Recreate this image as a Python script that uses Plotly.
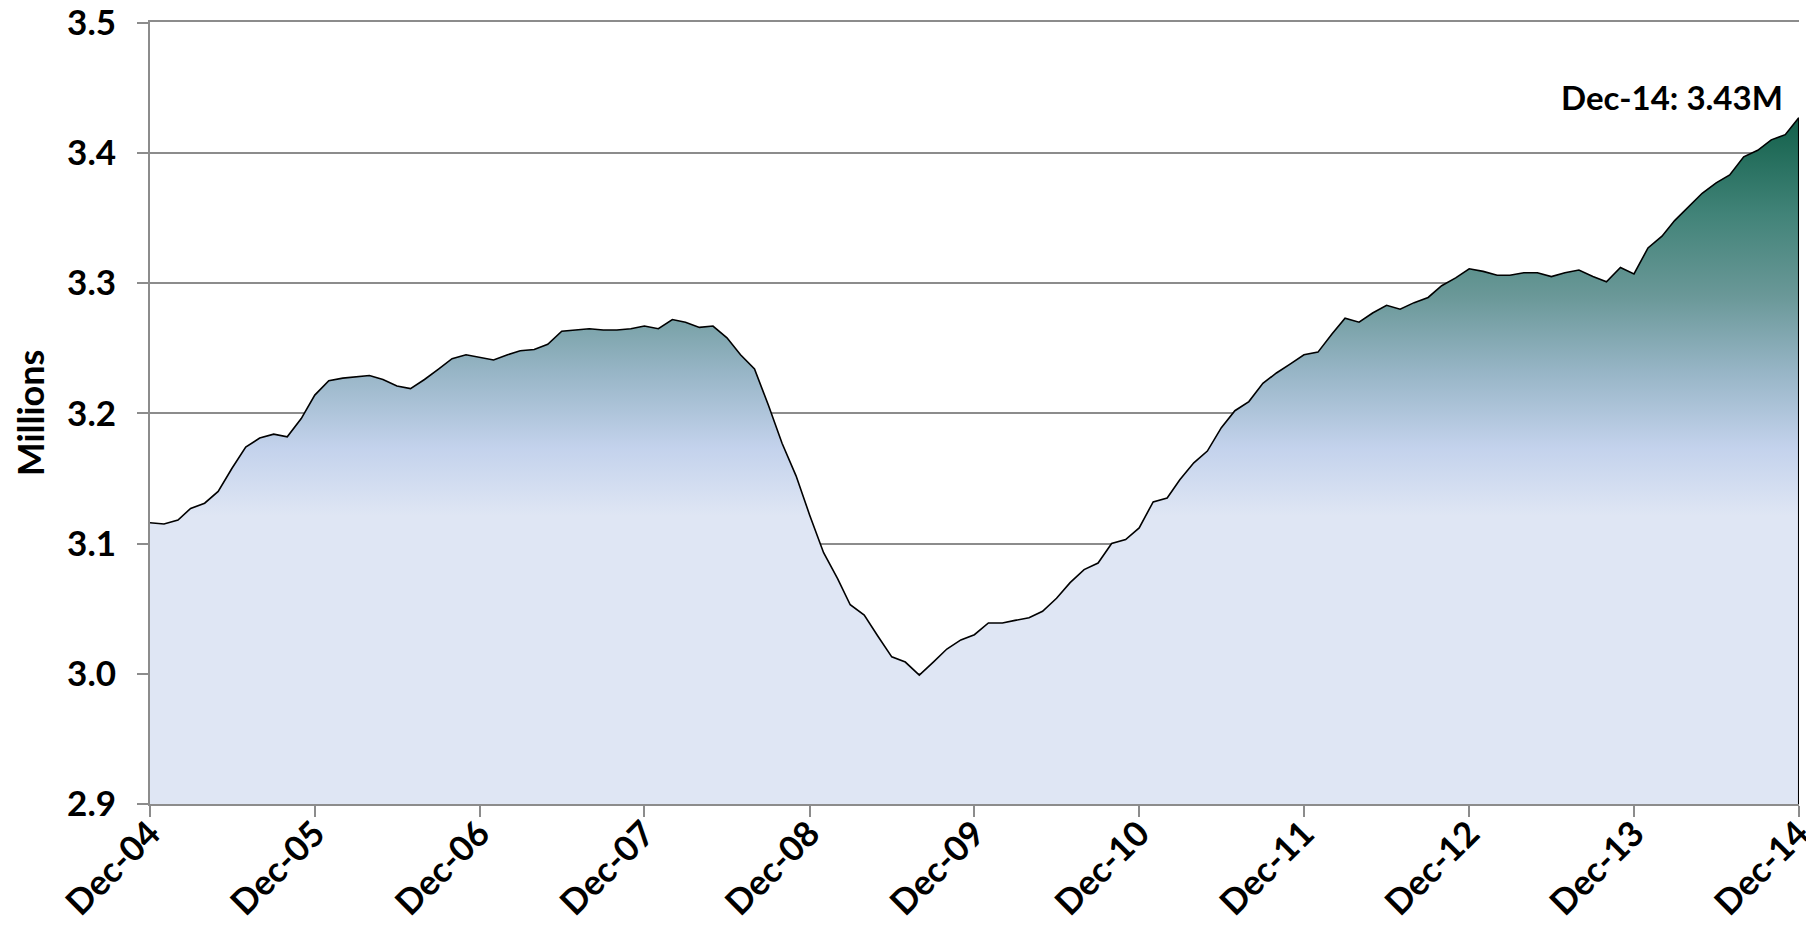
import plotly.graph_objects as go
import pandas as pd

start_month = "2004-12-01"
n_months = 121
values = [
    3.116,
    3.115, 3.118, 3.127, 3.131, 3.140, 3.158, 3.174, 3.181, 3.184, 3.182, 3.196, 3.214,
    3.225, 3.227, 3.228, 3.229, 3.226, 3.221, 3.219, 3.226, 3.234, 3.242, 3.245, 3.243,
    3.241, 3.245, 3.248, 3.249, 3.253, 3.263, 3.264, 3.265, 3.264, 3.264, 3.265, 3.267,
    3.265, 3.272, 3.270, 3.266, 3.267, 3.258, 3.245, 3.234, 3.206, 3.177, 3.152, 3.122,
    3.093, 3.073, 3.053, 3.045, 3.029, 3.013, 3.009, 2.999, 3.009, 3.019, 3.026, 3.030,
    3.039, 3.039, 3.041, 3.043, 3.048, 3.058, 3.070, 3.080, 3.085, 3.100, 3.103, 3.112,
    3.132, 3.135, 3.149, 3.162, 3.171, 3.189, 3.202, 3.209, 3.223, 3.231, 3.238, 3.245,
    3.247, 3.261, 3.273, 3.270, 3.277, 3.283, 3.280, 3.285, 3.289, 3.298, 3.304, 3.311,
    3.309, 3.306, 3.306, 3.308, 3.308, 3.305, 3.308, 3.310, 3.305, 3.301, 3.312, 3.307,
    3.327, 3.336, 3.348, 3.359, 3.369, 3.377, 3.383, 3.397, 3.402, 3.410, 3.414, 3.427,
]
dates = pd.date_range(start_month, periods=n_months, freq="MS")
y_min, y_max = 2.9, 3.5
y_ticks = [2.9, 3.0, 3.1, 3.2, 3.3, 3.4, 3.5]
label_text = "Dec-14: 3.43M"
y_title = "Millions"

FONT = "Lato"
grid = "#8C8C8C"

fig = go.Figure()
fig.add_trace(go.Scatter(
    x=dates, y=values, mode="lines",
    line=dict(color="black", width=1.6),
    fill="tozeroy",
    fillgradient=dict(
        type="vertical",
        start=y_min, stop=max(values),
        colorscale=[
            [0.0, "#DFE6F4"],
            [0.42, "#DFE6F4"],
            [0.52, "#C3D2EC"],
            [0.63, "#97B5C6"],
            [0.74, "#6A9898"],
            [0.86, "#418378"],
            [1.0, "#12604A"],
        ],
    ),
    hoverinfo="x+y",
    showlegend=False,
))
# right edge outline of the area
fig.add_trace(go.Scatter(
    x=[dates[-1], dates[-1]], y=[y_min, values[-1]], mode="lines",
    line=dict(color="black", width=1.6), showlegend=False, hoverinfo="skip",
))

fig.add_annotation(
    x=dates[-1], y=values[-1], xref="x", yref="y",
    text=label_text, showarrow=False,
    xanchor="right", yanchor="bottom", xshift=-14, yshift=-1,
    font=dict(family=FONT, size=33, color="black", weight="bold"),
)

x_end = dates[-1] + pd.Timedelta(hours=12)

# the page body adds an 8px offset; figure is sized so the plot area lands where the reference has it
fig.update_layout(
    width=1806, height=920,
    margin=dict(l=142, r=15, t=14, b=124),
    paper_bgcolor="white", plot_bgcolor="white",
    font=dict(family=FONT, color="black"),
)
fig.update_xaxes(
    type="date",
    range=[dates[0], x_end],
    tick0=dates[0], dtick="M12", tickformat="%b-%y",
    tickangle=-45,
    ticks="outside", ticklen=11, tickwidth=2, tickcolor=grid,
    showline=True, linecolor=grid, linewidth=2, mirror=True,
    showgrid=False, zeroline=False, automargin=False,
    ticklabelstandoff=-18, ticklabelshift=0, ticklabeloverflow="allow",
    tickfont=dict(family=FONT, size=35, color="black", weight="bold"),
)
fig.update_yaxes(
    range=[y_min, y_max + 0.0005],
    tickmode="array", tickvals=y_ticks, ticktext=[f"{v:.1f}" for v in y_ticks],
    ticks="outside", ticklen=11, tickwidth=2, tickcolor=grid,
    showline=True, linecolor=grid, linewidth=2,
    showgrid=True, gridcolor=grid, gridwidth=2, zeroline=False,
    automargin=False, ticklabeloverflow="allow",
    ticklabelstandoff=14,
    tickfont=dict(family=FONT, size=35, color="black", weight="bold"),
    title=dict(text=y_title, standoff=24,
               font=dict(family=FONT, size=36, color="black", weight="bold")),
)

fig.write_html("out.html")
